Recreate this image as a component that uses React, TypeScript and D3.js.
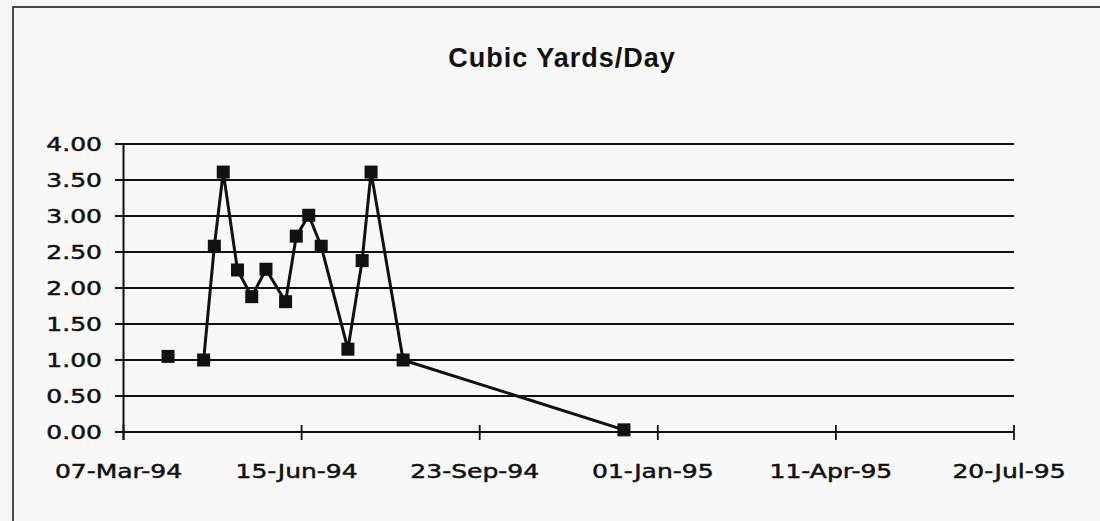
import React, { useEffect, useRef } from "react";
import * as d3 from "d3";

const dates = [
  "1994-04-01", "1994-04-21", "1994-04-27", "1994-05-02", "1994-05-10",
  "1994-05-18", "1994-05-26", "1994-06-06", "1994-06-12", "1994-06-19",
  "1994-06-26", "1994-07-11", "1994-07-19", "1994-07-24", "1994-08-11",
  "1994-12-13",
];
const values = [
  1.05, 1.0, 2.58, 3.61, 2.25, 1.88, 2.26, 1.81, 2.72, 3.01, 2.58, 1.15,
  2.38, 3.61, 1.0, 0.03,
];
const xTickLabels = [
  "07-Mar-94", "15-Jun-94", "23-Sep-94", "01-Jan-95", "11-Apr-95", "20-Jul-95",
];
const yTicks = [0, 0.5, 1, 1.5, 2, 2.5, 3, 3.5, 4];
const title = "Cubic Yards/Day";

const W = 1100;
const H = 521;
const labelFont = "'DejaVu Sans', sans-serif";
const stretch = 1.25; // the scanned tick labels are wide

export default function App() {
  const ref = useRef<SVGSVGElement | null>(null);

  useEffect(() => {
    const svg = d3.select(ref.current);
    svg.selectAll("*").remove();

    const parse = d3.utcParse("%Y-%m-%d");
    const parseTick = d3.utcParse("%d-%b-%y");
    const fmt = d3.utcFormat("%d-%b-%y");
    const data = dates.map((d, i) => ({ date: parse(d) as Date, value: values[i] }));
    const tickDates = xTickLabels.map((t) => parseTick(t) as Date);

    const x = d3
      .scaleUtc()
      .domain([tickDates[0], tickDates[tickDates.length - 1]])
      .range([123.5, 1014]);
    const y = d3.scaleLinear().domain([0, 4]).range([432, 144]);

    svg.append("rect").attr("width", W).attr("height", H).attr("fill", "#f8f8f8");
    svg
      .append("rect")
      .attr("x", 13)
      .attr("y", 7)
      .attr("width", W)
      .attr("height", H + 20)
      .attr("fill", "none")
      .attr("stroke", "#111")
      .attr("stroke-width", 1.5);

    svg
      .append("text")
      .attr("x", 562)
      .attr("y", 67)
      .attr("text-anchor", "middle")
      .style("font-family", "'Liberation Sans', Arial, sans-serif")
      .style("font-weight", "bold")
      .style("font-size", "27px")
      .style("letter-spacing", "1px")
      .attr("fill", "#111")
      .text(title);

    // horizontal gridlines
    svg
      .append("g")
      .selectAll("line")
      .data(yTicks)
      .join("line")
      .attr("x1", 115)
      .attr("x2", x.range()[1])
      .attr("y1", (d) => y(d))
      .attr("y2", (d) => y(d))
      .attr("stroke", "#111")
      .attr("stroke-width", (d) => (d === 0 ? 2.2 : 1.8));

    svg
      .append("g")
      .selectAll("text")
      .data(yTicks)
      .join("text")
      .attr("transform", (d) => `translate(102,${y(d) + 7}) scale(${stretch},1)`)
      .attr("text-anchor", "end")
      .style("font-family", labelFont)
      .style("font-size", "20px")
      .attr("fill", "#111")
      .attr("stroke", "#111")
      .attr("stroke-width", 0.5)
      .text((d) => d3.format(".2f")(d));

    // y axis line
    svg
      .append("line")
      .attr("x1", x.range()[0])
      .attr("x2", x.range()[0])
      .attr("y1", y(4))
      .attr("y2", y(0) + 8)
      .attr("stroke", "#111")
      .attr("stroke-width", 2);

    // x ticks cross the axis
    const xg = svg.append("g");
    xg.selectAll("line")
      .data(tickDates)
      .join("line")
      .attr("x1", (d) => x(d))
      .attr("x2", (d) => x(d))
      .attr("y1", y(0) - 7)
      .attr("y2", y(0) + 8)
      .attr("stroke", "#111")
      .attr("stroke-width", 1.8);
    xg.selectAll("text")
      .data(tickDates)
      .join("text")
      .attr("transform", (d) => `translate(${x(d) - 5},478) scale(${stretch},1)`)
      .attr("text-anchor", "middle")
      .style("font-family", labelFont)
      .style("font-size", "20px")
      .attr("fill", "#111")
      .attr("stroke", "#111")
      .attr("stroke-width", 0.5)
      .text((d) => fmt(d));

    // first point stands alone, the rest are joined
    const line = d3
      .line<{ date: Date; value: number }>()
      .x((d) => x(d.date))
      .y((d) => y(d.value));
    svg
      .append("path")
      .datum(data.slice(1))
      .attr("d", line)
      .attr("fill", "none")
      .attr("stroke", "#111")
      .attr("stroke-width", 3);

    const s = 13;
    svg
      .append("g")
      .selectAll("rect")
      .data(data)
      .join("rect")
      .attr("x", (d) => x(d.date) - s / 2)
      .attr("y", (d) => y(d.value) - s / 2)
      .attr("width", s)
      .attr("height", s)
      .attr("fill", "#111");
  }, []);

  return (
    <svg
      ref={ref}
      width={W}
      height={H}
      style={{ position: "absolute", left: 0, top: 0, display: "block" }}
    />
  );
}
